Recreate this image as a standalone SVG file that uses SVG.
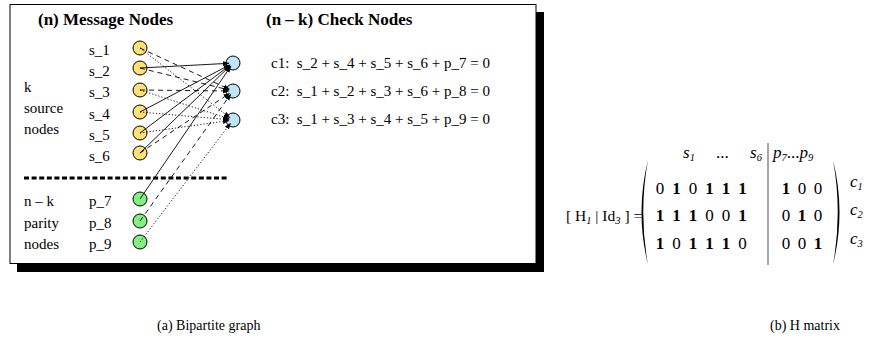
<svg xmlns="http://www.w3.org/2000/svg" width="896" height="341" viewBox="0 0 896 341">
<style>
text{font-family:"Liberation Serif","Times New Roman",serif;font-size:15px;fill:#000}
.t{font-weight:bold;font-size:17px}
.cap{font-size:14px}
.m{font-size:17px}
.lbl{font-size:15.5px}
.b{font-weight:bold}
.i{font-style:italic}
.sub{font-size:10.5px;font-style:italic}
.src{fill:#ffe070;stroke:#000;stroke-width:1}
.par{fill:#80f080;stroke:#000;stroke-width:1}
.chk{fill:#c0e4f8;stroke:#000;stroke-width:1}
.e{fill:none;stroke:#000;stroke-width:0.9;marker-end:url(#ah)}
.dash{stroke-dasharray:5,4}
.dot{stroke-dasharray:1.2,2}
</style>
<defs>
<marker id="ah" markerUnits="userSpaceOnUse" markerWidth="7" markerHeight="6" refX="6" refY="3" orient="auto">
<path d="M0,0.5 L6.5,3 L0,5.5 z" fill="#000"/>
</marker>
</defs>
<rect width="896" height="341" fill="#fff"/>
<g id="frame">
<rect x="17" y="12" width="527" height="260" fill="#000"/>
<rect x="10" y="4.5" width="526" height="259" fill="#fff" stroke="#000" stroke-width="1"/>
</g>
<text class="t" x="38" y="25">(n) Message Nodes</text>
<text class="t" x="266" y="25">(n – k) Check Nodes</text>
<text x="24" y="92">k</text>
<text x="24" y="113">source</text>
<text x="24" y="134">nodes</text>
<text x="24" y="206">n – k</text>
<text x="24" y="228">parity</text>
<text x="24" y="249">nodes</text>
<line x1="24" y1="178" x2="228" y2="178" stroke="#000" stroke-width="3" stroke-dasharray="5,2.6"/>
<g id="s1"><circle class="src" cx="140" cy="48" r="7"/><text x="89" y="55">s_1</text></g>
<g id="s2"><circle class="src" cx="140" cy="68" r="7"/><text x="89" y="76">s_2</text></g>
<g id="s3"><circle class="src" cx="140" cy="90" r="7"/><text x="89" y="97">s_3</text></g>
<g id="s4"><circle class="src" cx="140" cy="112" r="7"/><text x="89" y="119">s_4</text></g>
<g id="s5"><circle class="src" cx="140" cy="133" r="7"/><text x="89" y="140">s_5</text></g>
<g id="s6"><circle class="src" cx="140" cy="153" r="7"/><text x="89" y="161">s_6</text></g>
<g id="p7"><circle class="par" cx="140" cy="199" r="7"/><text x="89" y="206">p_7</text></g>
<g id="p8"><circle class="par" cx="140" cy="221" r="7"/><text x="89" y="228">p_8</text></g>
<g id="p9"><circle class="par" cx="140" cy="242" r="7"/><text x="89" y="249">p_9</text></g>
<g id="c1"><circle class="chk" cx="233" cy="63" r="7"/><text x="271" y="68" xml:space="preserve">c1:  s_2 + s_4 + s_5 + s_6 + p_7 = 0</text></g>
<g id="c2"><circle class="chk" cx="233" cy="91" r="7"/><text x="271" y="96" xml:space="preserve">c2:  s_1 + s_2 + s_3 + s_6 + p_8 = 0</text></g>
<g id="c3"><circle class="chk" cx="233" cy="120" r="7"/><text x="271" y="124" xml:space="preserve">c3:  s_1 + s_3 + s_4 + s_5 + p_9 = 0</text></g>
<g id="connectors">
<line class="e" x1="140" y1="68" x2="229" y2="63.3"/>
<line class="e" x1="140" y1="112" x2="229.5" y2="64.9"/>
<line class="e" x1="140" y1="133" x2="229.8" y2="65.4"/>
<line class="e" x1="140" y1="153" x2="230.1" y2="65.8"/>
<line class="e" x1="140" y1="199" x2="230.8" y2="66.3"/>
<line class="e dash" x1="140" y1="48" x2="229.4" y2="89.3"/>
<line class="e dash" x1="140" y1="68" x2="229.1" y2="90"/>
<line class="e dash" x1="140" y1="90" x2="229" y2="91"/>
<line class="e dash" x1="140" y1="153" x2="229.7" y2="93.2"/>
<line class="e dash" x1="140" y1="221" x2="230.7" y2="94.3"/>
<line class="e dot" x1="140" y1="48" x2="229.8" y2="117.6"/>
<line class="e dot" x1="140" y1="90" x2="229.2" y2="118.8"/>
<line class="e dot" x1="140" y1="112" x2="229" y2="119.7"/>
<line class="e dot" x1="140" y1="133" x2="229" y2="120.6"/>
<line class="e dot" x1="140" y1="242" x2="230.6" y2="123.2"/>
</g>
<g id="matrix">
<text class="lbl" x="566" y="221" xml:space="preserve">[ H<tspan class="sub" dy="3">1</tspan><tspan dy="-3"> | Id</tspan><tspan class="sub" dy="3">3</tspan><tspan dy="-3"> ] =</tspan></text>
<path d="M648,160 Q635,212 648,265 Q638.5,212 648,160 z" fill="#000"/>
<path d="M833,160 Q846,212 833,265 Q842.5,212 833,160 z" fill="#000"/>
<line x1="768" y1="143" x2="768" y2="265" stroke="#888" stroke-width="1.5"/>
<text class="m" y="158"><tspan class="i" x="683">s</tspan><tspan class="sub" dy="3">1</tspan><tspan x="716" dy="-3">...</tspan><tspan class="i" x="750">s</tspan><tspan class="sub" dy="3">6</tspan><tspan class="i" x="773" dy="-3">p</tspan><tspan class="sub" dy="3">7</tspan><tspan dy="-3">...</tspan><tspan class="i">p</tspan><tspan class="sub" dy="3">9</tspan></text>
<g text-anchor="middle">
<text class="m" y="194"><tspan x="660">0</tspan><tspan class="b" x="676.5">1</tspan><tspan x="693">0</tspan><tspan class="b" x="709.5">1</tspan><tspan class="b" x="726">1</tspan><tspan class="b" x="742.5">1</tspan><tspan class="b" x="786">1</tspan><tspan x="802">0</tspan><tspan x="818">0</tspan></text>
<text class="m" y="221"><tspan class="b" x="660">1</tspan><tspan class="b" x="676.5">1</tspan><tspan class="b" x="693">1</tspan><tspan x="709.5">0</tspan><tspan x="726">0</tspan><tspan class="b" x="742.5">1</tspan><tspan x="786">0</tspan><tspan class="b" x="802">1</tspan><tspan x="818">0</tspan></text>
<text class="m" y="249"><tspan class="b" x="660">1</tspan><tspan x="676.5">0</tspan><tspan class="b" x="693">1</tspan><tspan class="b" x="709.5">1</tspan><tspan class="b" x="726">1</tspan><tspan x="742.5">0</tspan><tspan x="786">0</tspan><tspan x="802">0</tspan><tspan class="b" x="818">1</tspan></text>
</g>
<text class="m i" x="850" y="187">c<tspan class="sub" dy="3">1</tspan></text>
<text class="m i" x="850" y="215">c<tspan class="sub" dy="3">2</tspan></text>
<text class="m i" x="850" y="244">c<tspan class="sub" dy="3">3</tspan></text>
</g>
<text class="cap" x="157" y="330">(a) Bipartite graph</text>
<text class="cap" x="770" y="330">(b) H matrix</text>
</svg>
